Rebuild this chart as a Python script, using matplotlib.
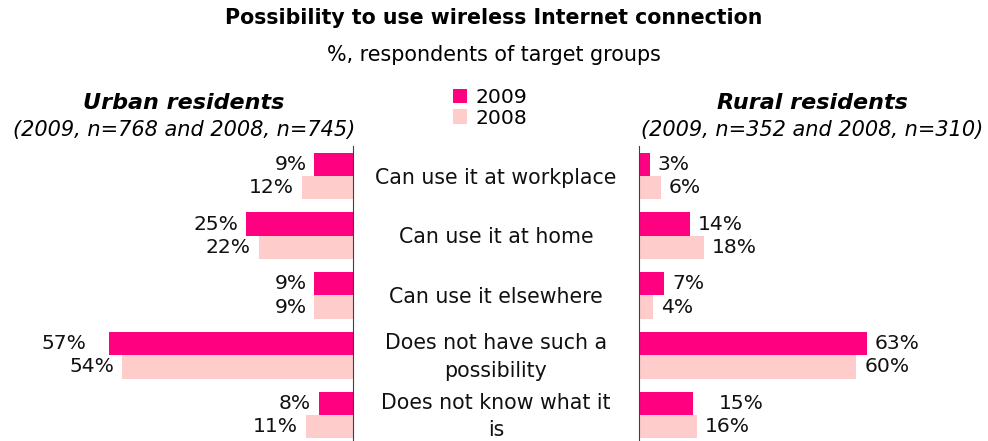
import numpy as np
import matplotlib.pyplot as plt
import matplotlib.transforms as mtransforms

categories = ["Can use it at workplace", "Can use it at home", "Can use it elsewhere",
              "Does not have such a\npossibility", "Does not know what it\nis"]
urban_2009 = [9, 25, 9, 57, 8]
urban_2008 = [12, 22, 9, 54, 11]
rural_2009 = [3, 14, 7, 63, 15]
rural_2008 = [6, 18, 4, 60, 16]

c2009 = "#FF0080"
c2008 = "#FFCCCC"

W, H = 988, 441
fig = plt.figure(figsize=(W / 100, H / 100), dpi=100)

# axes placed in pixel units
axL = fig.add_axes([0, 0, 353 / W, 295 / H])
axR = fig.add_axes([639 / W, 0, (W - 639) / W, 295 / H])

y = np.arange(len(categories))
h = 0.39

axL.barh(y - h / 2, urban_2009, height=h, color=c2009, label="2009")
axL.barh(y + h / 2, urban_2008, height=h, color=c2008, label="2008")
axR.barh(y - h / 2, rural_2009, height=h, color=c2009)
axR.barh(y + h / 2, rural_2008, height=h, color=c2008)

axL.set_xlim(82.5, 0)
axR.set_xlim(0, 96.4)
for ax in (axL, axR):
    ax.set_ylim(4.435, -0.5)
    ax.set_xticks([])
    ax.set_yticks([])
    for s in ax.spines.values():
        s.set_visible(False)
axL.spines["right"].set_visible(True)
axR.spines["left"].set_visible(True)
axL.spines["right"].set_color("#404040")
axR.spines["left"].set_color("#404040")

# value labels
extra = {("L", 3, 0): 15, ("R", 4, 0): 18}
for side, ax, vals09, vals08 in (("L", axL, urban_2009, urban_2008), ("R", axR, rural_2009, rural_2008)):
    for i in range(len(categories)):
        for k, (vals, off) in enumerate(((vals09, -h / 2), (vals08, h / 2))):
            p = 8 + extra.get((side, i, k), 0)
            if side == "L":
                tr = ax.transData + mtransforms.ScaledTranslation(-p / 100, 0, fig.dpi_scale_trans)
                ha = "right"
            else:
                tr = ax.transData + mtransforms.ScaledTranslation(p / 100, 0, fig.dpi_scale_trans)
                ha = "left"
            ax.text(vals[i], i + off, f"{vals[i]}%", transform=tr, ha=ha, va="center",
                    fontsize=14.6, color="#111111")

# category labels in the middle
btr = mtransforms.blended_transform_factory(fig.transFigure, axL.transData)
for i, c in enumerate(categories):
    fig.text(496 / W, i + 0.03, c, transform=btr, ha="center", va="center",
             fontsize=14.8, linespacing=1.45, color="#111111")

fig.text(0.5, 1 - 18 / H, "Possibility to use wireless Internet connection",
         ha="center", va="center", fontsize=14.8, fontweight="bold")
fig.text(0.5, 1 - 55 / H, "%, respondents of target groups",
         ha="center", va="center", fontsize=14.9)

fig.text(184 / W, 1 - 103 / H, "Urban residents", ha="center", va="center",
         fontsize=16, fontweight="bold", style="italic")
fig.text(184 / W, 1 - 130 / H, "(2009, n=768 and 2008, n=745)", ha="center", va="center",
         fontsize=15, style="italic")
fig.text(812 / W, 1 - 103 / H, "Rural residents", ha="center", va="center",
         fontsize=16, fontweight="bold", style="italic")
fig.text(812 / W, 1 - 130 / H, "(2009, n=352 and 2008, n=310)", ha="center", va="center",
         fontsize=15, style="italic")

handles, labels = axL.get_legend_handles_labels()
fig.legend(handles, labels, loc="center", bbox_to_anchor=(490 / W, 1 - 108 / H),
           frameon=False, fontsize=14.6, handlelength=0.7, handleheight=0.7,
           labelspacing=0.05, handletextpad=0.4, borderpad=0)

fig.savefig("out.png", dpi=100)
